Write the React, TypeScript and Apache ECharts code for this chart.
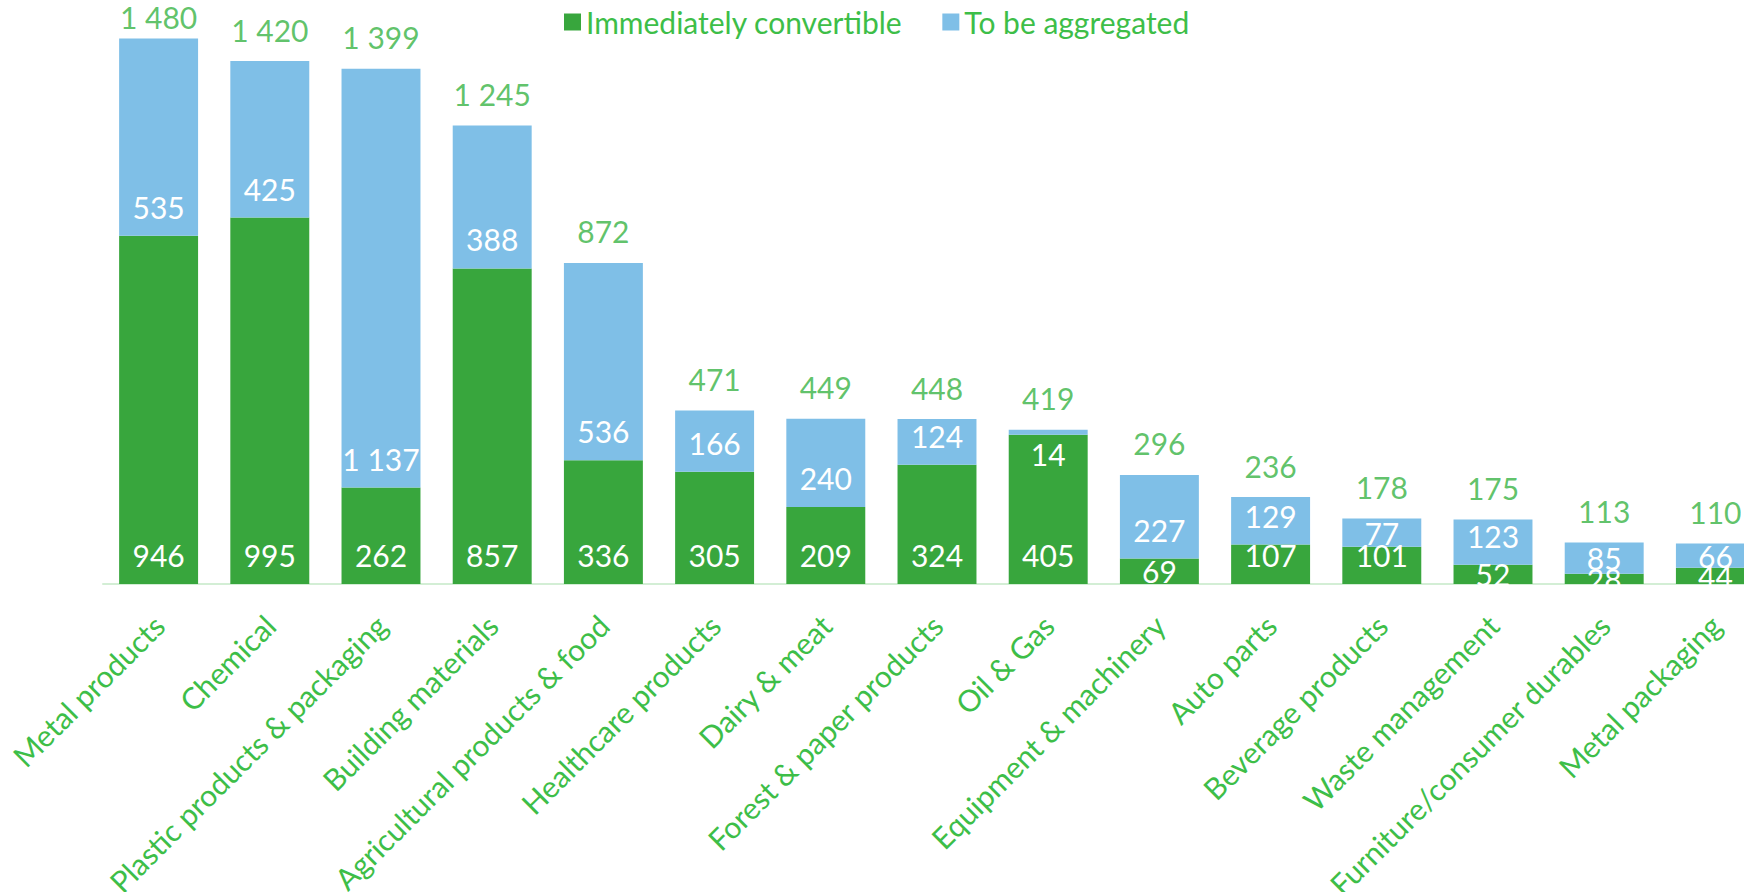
import React, { useEffect, useRef } from "react";
import * as echarts from "echarts";

const categories = [
  "Metal products",
  "Chemical",
  "Plastic products & packaging",
  "Building materials",
  "Agricultural products & food",
  "Healthcare products",
  "Dairy & meat",
  "Forest & paper products",
  "Oil & Gas",
  "Equipment & machinery",
  "Auto parts",
  "Beverage products",
  "Waste management",
  "Furniture/consumer durables",
  "Metal packaging",
];
const immediate = [946, 995, 262, 857, 336, 305, 209, 324, 405, 69, 107, 101, 52, 28, 44];
const aggregated = [535, 425, 1137, 388, 536, 166, 240, 124, 14, 227, 129, 77, 123, 85, 66];
const totals = [1480, 1420, 1399, 1245, 872, 471, 449, 448, 419, 296, 236, 178, 175, 113, 110];

const GREEN = "#38A63D";
const BLUE = "#7FBFE7";
const TEXT_GREEN = "#3DBE48";
const TOTAL_GREEN = "#37B343";
const FONT = "Lato, 'Open Sans', sans-serif";
const Y_MAX = 1575;

function fmt(v: number): string {
  if (v >= 1000) {
    return Math.floor(v / 1000) + " " + String(v % 1000).padStart(3, "0");
  }
  return String(v);
}

export default function App() {
  const ref = useRef<HTMLDivElement>(null);
  useEffect(() => {
    document.body.style.margin = "0";
    document.body.style.overflow = "hidden";
    if (!ref.current) return;
    const chart = echarts.init(ref.current, undefined, { renderer: "svg" });
    const insideLabel = { color: "#ffffff", fontSize: 30, fontFamily: FONT };
    chart.setOption({
      animation: false,
      backgroundColor: "#ffffff",
      legend: {
        data: ["Immediately convertible", "To be aggregated"],
        left: 559,
        top: 2,
        itemWidth: 17,
        itemHeight: 17,
        itemGap: 40,
        icon: "rect",
        textStyle: { color: TEXT_GREEN, fontSize: 30, fontFamily: FONT },
      },
      grid: {
        left: 103,
        right: 0,
        top: 4,
        bottom: 308,
        containLabel: false,
        outerBoundsMode: "none",
      },
      xAxis: {
        type: "category",
        data: categories,
        axisLine: { show: true, lineStyle: { color: "#d3eed5", width: 2 } },
        axisTick: { show: false },
        axisLabel: {
          interval: 0,
          rotate: 45,
          margin: 36,
          color: TEXT_GREEN,
          fontSize: 30,
          fontFamily: FONT,
          hideOverlap: false,
        },
      },
      yAxis: { type: "value", min: 0, max: Y_MAX, show: false, splitLine: { show: false } },
      series: [
        {
          name: "Immediately convertible",
          type: "bar",
          stack: "s",
          barWidth: "71%",
          itemStyle: { color: GREEN },
          data: immediate.map((v) => ({
            value: v,
            label: v < 100 ? { position: "inside" } : { position: "insideBottom", distance: 14 },
          })),
          label: {
            show: true,
            position: "insideBottom",
            distance: 14,
            formatter: (p: any) => fmt(p.value),
            ...insideLabel,
          },
        },
        {
          name: "To be aggregated",
          type: "bar",
          stack: "s",
          barWidth: "71%",
          itemStyle: { color: BLUE },
          data: aggregated.map((v) => ({
            value: v,
            label:
              v < 20
                ? { position: "bottom", distance: 4 }
                : v < 100
                ? { position: "inside" }
                : { position: "insideBottom", distance: 14 },
          })),
          label: {
            show: true,
            position: "insideBottom",
            distance: 14,
            formatter: (p: any) => fmt(p.value),
            ...insideLabel,
          },
        },
        {
          name: "Total",
          type: "scatter",
          symbolSize: 1,
          itemStyle: { color: "rgba(0,0,0,0)" },
          data: totals.map((v) => ({
            value: v,
            label: { distance: v > Y_MAX - 110 ? 6 : 16 },
          })),
          z: 5,
          label: {
            show: true,
            position: "top",
            distance: 16,
            color: TOTAL_GREEN,
            fontSize: 30,
            fontFamily: FONT,
            formatter: (p: any) => fmt(p.value),
          },
        },
      ],
    });
    return () => chart.dispose();
  }, []);
  return (
    <div style={{ position: "absolute", left: 0, top: 0, width: 1744, height: 892, overflow: "hidden" }}>
      <div ref={ref} style={{ position: "absolute", left: 0, top: 0, width: 1771, height: 892 }} />
    </div>
  );
}
